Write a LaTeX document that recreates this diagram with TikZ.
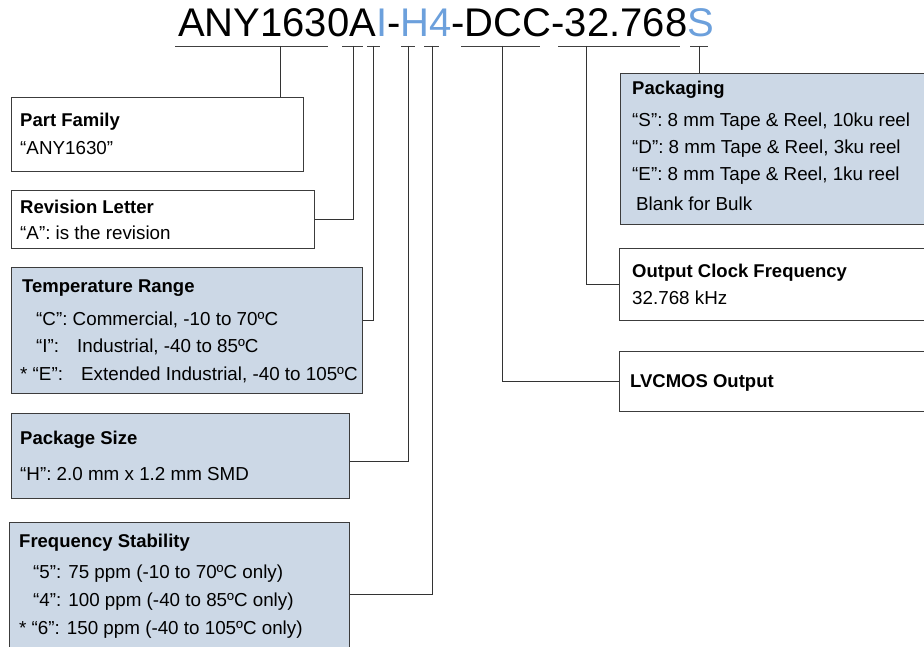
\documentclass[tikz,border=0pt]{standalone}
\usepackage{fontspec}
\setmainfont{Liberation Sans}
\definecolor{boxfill}{RGB}{204,216,230}
\definecolor{codeblue}{RGB}{108,160,220}
\definecolor{edge}{RGB}{60,60,60}
\begin{document}
\begin{tikzpicture}[x=1pt,y=-1pt,
  plain/.style={draw=edge,line width=1pt,anchor=north west,inner sep=0pt,fill=white},
  shaded/.style={plain,fill=boxfill},
  txt/.style={anchor=base west,inner sep=0pt,font=\fontsize{18.8}{22}\selectfont},
  hd/.style={txt,font=\fontsize{18.5}{22}\selectfont\bfseries},
  wire/.style={draw=black!80,line width=0.9pt},
  uline/.style={draw=black!75,line width=0.9pt}]
\path[use as bounding box,clip] (0,0) rectangle (924,647);
\fill[white] (0,0) rectangle (924,647);
% title
\node[anchor=base west,inner sep=0pt,font=\fontsize{40}{44}\selectfont] (title) at (178,37)
  {ANY1630A{\color{codeblue}I}-{\color{codeblue}H4}-DCC-32.768{\color{codeblue}S}};
% underline segments
\draw[uline] (175,46) -- (328,46);
\draw[uline] (342,46) -- (363,46);
\draw[uline] (367,46) -- (380,46);
\draw[uline] (401,46) -- (415,46);
\draw[uline] (424,46) -- (439,46);
\draw[uline] (461,46) -- (540,46);
\draw[uline] (558,46) -- (680,46);
\draw[uline] (690,46) -- (708,46);
\coordinate (tPF) at (280,46);
\coordinate (tRev) at (353,46);
\coordinate (tTemp) at (373,46);
\coordinate (tPkg) at (408,46);
\coordinate (tStab) at (432,46);
\coordinate (tOut) at (502,46);
\coordinate (tFreq) at (586,46);
\coordinate (tPack) at (699,46);
% left boxes
\node[plain,minimum width=292,minimum height=74] (pf) at (11,97) {};
\node[hd] (pfh) at (20,127) {Part Family};
\node[txt] (pft) at (20,155) {“ANY1630”};
\node[plain,minimum width=303,minimum height=58] (rev) at (11,190) {};
\node[hd] (revh) at (20,214) {Revision Letter};
\node[txt] (revt) at (20,240) {“A”: is the revision};
\node[shaded,minimum width=351,minimum height=126] (temp) at (11,267) {};
\node[hd] (temph) at (22,292) {Temperature Range};
\node[txt] (temp1) at (36,325) {“C”: Commercial, -10 to 70ºC};
\node[txt] (temp2) at (36,352) {\makebox[41pt][l]{“I”:}Industrial, -40 to 85ºC};
\node[txt] (temp3) at (20,380) {\makebox[61pt][l]{* “E”:}Extended Industrial, -40 to 105ºC};
\node[shaded,minimum width=338,minimum height=85] (pkg) at (11,413) {};
\node[hd] (pkgh) at (20,444) {Package Size};
\node[txt] (pkgt) at (20,480) {“H”: 2.0 mm x 1.2 mm SMD};
\node[shaded,minimum width=340,minimum height=140] (stab) at (9,522) {};
\node[hd] (stabh) at (19,547) {Frequency Stability};
\node[txt] (stab1) at (33,578) {“5”: 75 ppm (-10 to 70ºC only)};
\node[txt] (stab2) at (33,606) {“4”: 100 ppm (-40 to 85ºC only)};
\node[txt] (stab3) at (19,634) {* “6”: 150 ppm (-40 to 105ºC only)};
% right boxes
\node[shaded,minimum width=320,minimum height=151] (pack) at (620,73) {};
\node[hd] (packh) at (632,95) {Packaging};
\node[txt] (pack1) at (632,127) {“S”: 8 mm Tape \& Reel, 10ku reel};
\node[txt] (pack2) at (632,154) {“D”: 8 mm Tape \& Reel, 3ku reel};
\node[txt] (pack3) at (632,181) {“E”: 8 mm Tape \& Reel, 1ku reel};
\node[txt] (pack4) at (636,211) {Blank for Bulk};
\node[plain,minimum width=320,minimum height=72] (freq) at (619,248) {};
\node[hd] (freqh) at (632,278) {Output Clock Frequency};
\node[txt] (freqt) at (632,305) {32.768 kHz};
\node[plain,minimum width=320,minimum height=60] (out) at (619,351) {};
\node[hd] (outh) at (630,387) {LVCMOS Output};
% connectors
\draw[wire] (tPF) -- (tPF |- pf.north);
\draw[wire] (tRev) |- (rev.east);
\draw[wire] (tTemp) |- ([yshift=10pt]temp.east);
\draw[wire] (tPkg) |- ([yshift=-5pt]pkg.east);
\draw[wire] (tStab) |- ([yshift=-2pt]stab.east);
\draw[wire] (tOut) |- (out.west);
\draw[wire] (tFreq) |- (freq.west);
\draw[wire] (tPack) -- (tPack |- pack.north);
\end{tikzpicture}
\end{document}
